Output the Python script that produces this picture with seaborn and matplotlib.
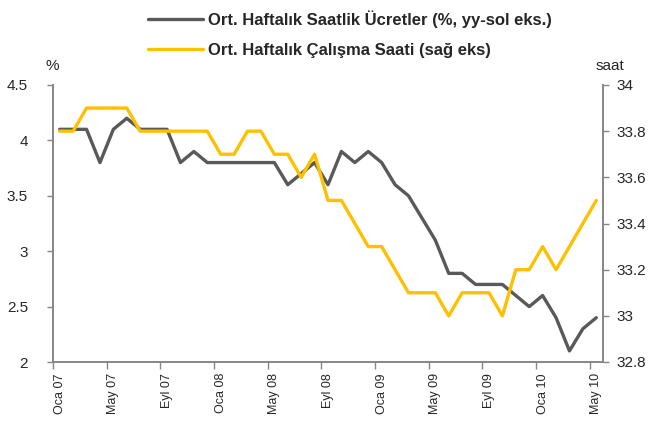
import numpy as np
import pandas as pd
import matplotlib
matplotlib.use('Agg')
import matplotlib.pyplot as plt
import seaborn as sns
from matplotlib.ticker import MultipleLocator, FixedLocator

sns.set_style('white')
plt.rcParams['font.family'] = ['Liberation Sans', 'DejaVu Sans']

# monthly, Oca 07 .. May 10
months = ['Oca', 'Şub', 'Mar', 'Nis', 'May', 'Haz', 'Tem', 'Ağu', 'Eyl', 'Eki', 'Kas', 'Ara']
dates = [f'{months[m % 12]} {7 + m // 12:02d}' for m in range(41)]

wages = [4.1, 4.1, 4.1, 3.8, 4.1, 4.2, 4.1, 4.1, 4.1, 3.8,
         3.9, 3.8, 3.8, 3.8, 3.8, 3.8, 3.8, 3.6, 3.7, 3.8,
         3.6, 3.9, 3.8, 3.9, 3.8, 3.6, 3.5, 3.3, 3.1, 2.8,
         2.8, 2.7, 2.7, 2.7, 2.6, 2.5, 2.6, 2.4, 2.1, 2.3,
         2.4]
hours = [33.8, 33.8, 33.9, 33.9, 33.9, 33.9, 33.8, 33.8, 33.8, 33.8,
         33.8, 33.8, 33.7, 33.7, 33.8, 33.8, 33.7, 33.7, 33.6, 33.7,
         33.5, 33.5, 33.4, 33.3, 33.3, 33.2, 33.1, 33.1, 33.1, 33.0,
         33.1, 33.1, 33.1, 33.0, 33.2, 33.2, 33.3, 33.2, 33.3, 33.4,
         33.5]

label_wages = 'Ort. Haftalık Saatlik Ücretler (%, yy-sol eks.)'
label_hours = 'Ort. Haftalık Çalışma Saati (sağ eks)'

df = pd.DataFrame({'idx': np.arange(len(dates)), 'wages': wages, 'hours': hours})

GRAY = '#595959'
YELLOW = '#FFC000'
AXIS = '#868686'

fig = plt.figure(figsize=(6.59, 4.34), dpi=100)
ax = fig.add_axes([53 / 659, 1 - 362 / 434, 550 / 659, 277 / 434])
ax2 = ax.twinx()

sns.lineplot(data=df, x='idx', y='wages', ax=ax, color=GRAY, linewidth=2.4, label=label_wages, legend=False)
sns.lineplot(data=df, x='idx', y='hours', ax=ax2, color=YELLOW, linewidth=2.4, label=label_hours, legend=False)

ax.set_xlim(-0.5, 40.5)
ax.set_ylim(2, 4.5)
ax2.set_ylim(32.8, 34)
ax.yaxis.set_major_locator(MultipleLocator(0.5))
ax2.yaxis.set_major_locator(MultipleLocator(0.2))
ax.yaxis.set_major_formatter(plt.FuncFormatter(lambda v, p: f'{v:g}'))
ax2.yaxis.set_major_formatter(plt.FuncFormatter(lambda v, p: f'{v:g}'))

ax.set_xticks(range(0, 41, 4))
ax.set_xticklabels([dates[i] for i in range(0, 41, 4)], rotation=90, fontsize=9)
ax.xaxis.set_minor_locator(FixedLocator(np.arange(-0.5, 40, 4)))
ax.tick_params(axis='x', which='major', length=0, pad=8)
ax.tick_params(axis='x', which='minor', length=5, width=1, color=AXIS, direction='out', bottom=True)
ax.tick_params(axis='y', length=4, width=1, color=AXIS, direction='out', left=True, labelsize=11, pad=14)
ax2.tick_params(axis='y', length=4, width=1, color=AXIS, direction='out', right=True, labelsize=11, pad=6)

ax.set_xlabel('')
ax.set_ylabel('')
ax2.set_ylabel('')

for a in (ax, ax2):
    a.spines['top'].set_visible(False)
    for s in ('left', 'right', 'bottom'):
        a.spines[s].set_color(AXIS)
        a.spines[s].set_linewidth(1.2)

fig.text(52 / 659, 1 - 66 / 434, '%', fontsize=11, ha='center', va='center')
fig.text(610 / 659, 1 - 66 / 434, 'saat', fontsize=11, ha='center', va='center')

handles = ax.get_lines()[:1] + ax2.get_lines()[:1]
fig.legend(handles, [label_wages, label_hours], loc='upper left',
           bbox_to_anchor=(133 / 659, 1 + 5 / 434), frameon=False,
           prop={'weight': 'bold', 'size': 12}, handlelength=3.3,
           handletextpad=0.3, labelspacing=0.9)

plt.savefig('out.png', dpi=100, facecolor='white')
plt.close()
